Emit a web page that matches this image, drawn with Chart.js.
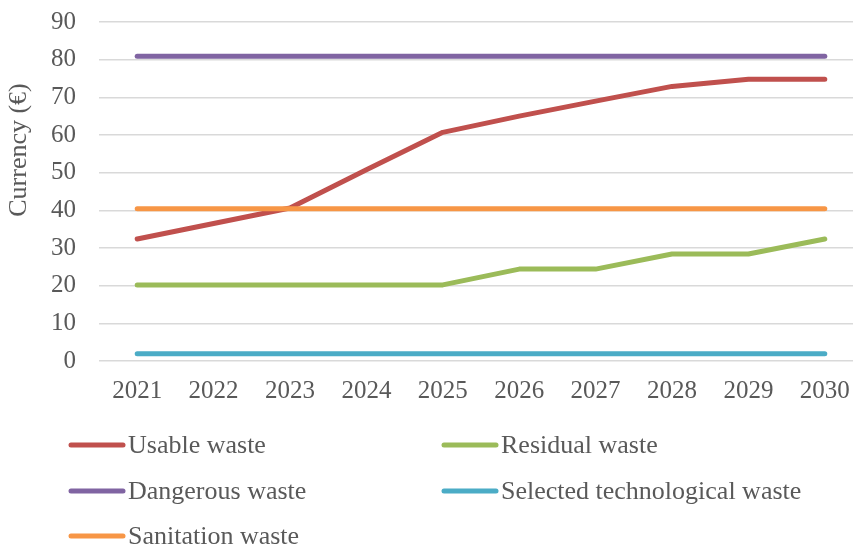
<!DOCTYPE html>
<html>
<head>
<meta charset="utf-8">
<script src="https://cdn.jsdelivr.net/npm/chart.js@4.4.0/dist/chart.umd.min.js"></script>
<style>
html,body{margin:0;padding:0;background:#fff;overflow:hidden;}
#wrap{width:870px;height:546px;}
</style>
</head>
<body>
<div id="wrap"><canvas id="c" width="870" height="546"></canvas></div>
<script>
const years = ['2021','2022','2023','2024','2025','2026','2027','2028','2029','2030'];
const usableWaste = [32.4, 36.5, 40.6, 50.8, 60.7, 65.0, 69.0, 72.9, 74.8, 74.8];
const residualWaste = [20.2, 20.2, 20.2, 20.2, 20.2, 24.4, 24.4, 28.4, 28.4, 32.4];
const dangerousWaste = [80.9, 80.9, 80.9, 80.9, 80.9, 80.9, 80.9, 80.9, 80.9, 80.9];
const selectedTechWaste = [1.9, 1.9, 1.9, 1.9, 1.9, 1.9, 1.9, 1.9, 1.9, 1.9];
const sanitationWaste = [40.4, 40.4, 40.4, 40.4, 40.4, 40.4, 40.4, 40.4, 40.4, 40.4];
const seriesNames = ['Usable waste','Residual waste','Dangerous waste','Selected technological waste','Sanitation waste'];
const seriesColors = ['#C0504D','#9BBB59','#8064A2','#4BACC6','#F79646'];
const yAxisTitle = 'Currency (€)';

const FONT = '"Liberation Serif", "Times New Roman", serif';
const TEXT = '#595959';
const allData = [usableWaste, residualWaste, dangerousWaste, selectedTechWaste, sanitationWaste];

const datasets = allData.map((d, i) => ({
  label: seriesNames[i],
  data: d,
  borderColor: seriesColors[i],
  backgroundColor: seriesColors[i],
  borderWidth: 5,
  borderCapStyle: 'round',
  borderJoinStyle: 'round',
  pointRadius: 0,
  tension: 0,
  fill: false,
  order: 4 - i
}));

const legendPlugin = {
  id: 'customLegend',
  afterDraw(chart) {
    const ctx = chart.ctx;
    const cols = [68, 441];
    const rows = [445, 491, 536];
    ctx.save();
    ctx.font = '26px ' + FONT;
    ctx.fillStyle = TEXT;
    ctx.textBaseline = 'middle';
    ctx.textAlign = 'left';
    chart.data.datasets.forEach((ds, i) => {
      const x = cols[i % 2];
      const y = rows[Math.floor(i / 2)];
      ctx.strokeStyle = ds.borderColor;
      ctx.lineWidth = 5;
      ctx.lineCap = 'round';
      ctx.beginPath();
      ctx.moveTo(x + 3, y);
      ctx.lineTo(x + 55, y);
      ctx.stroke();
      ctx.fillText(ds.label, x + 60, y + 1);
    });
    // y-axis title
    ctx.translate(18, 150);
    ctx.rotate(-Math.PI / 2);
    ctx.textAlign = 'center';
    ctx.fillText(yAxisTitle, 0, 1);
    ctx.restore();
  }
};

new Chart(document.getElementById('c'), {
  type: 'line',
  data: { labels: years, datasets },
  options: {
    responsive: false,
    animation: false,
    layout: { padding: { top: 22, right: 7, bottom: 126, left: 0 } },
    plugins: { legend: { display: false }, tooltip: { enabled: false } },
    scales: {
      x: {
        offset: true,
        grid: { display: false, drawTicks: false },
        border: { display: false },
        ticks: { color: TEXT, font: { family: FONT, size: 25 }, padding: 15, maxRotation: 0, autoSkip: false },
        afterFit(scale) { scale.height = 59; scale.paddingLeft = 0; scale.paddingRight = 0; }
      },
      y: {
        min: 0, max: 90,
        grid: { color: '#D9D9D9', lineWidth: 1.5, drawTicks: false },
        border: { display: false },
        ticks: { stepSize: 10, color: TEXT, font: { family: FONT, size: 25 }, padding: 23 },
        afterFit(scale) { scale.width = 99; scale.paddingTop = 0; scale.paddingBottom = 0; }
      }
    }
  },
  plugins: [legendPlugin]
});
</script>
</body>
</html>
